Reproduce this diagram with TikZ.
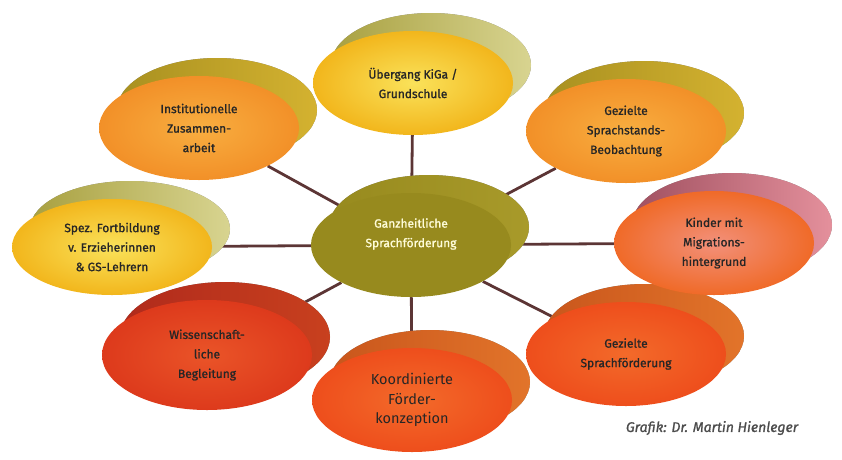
\documentclass[tikz,border=0pt]{standalone}
\usepackage{fontspec}
\setmainfont{Fira Sans}
\newfontfamily\heavy[FakeBold=1.2]{Fira Sans}
\usetikzlibrary{shapes.geometric,shadows,backgrounds}

\definecolor{linkbrown}{HTML}{5C3535}
\definecolor{hubolive}{HTML}{978A1E}
\definecolor{hubback}{HTML}{A89A2A}
\definecolor{redin}{HTML}{F36A2A}
\definecolor{redout}{HTML}{EE4E1C}
\definecolor{redbackA}{HTML}{C9561C}
\definecolor{redbackB}{HTML}{E2742A}
\definecolor{deepin}{HTML}{EA5428}
\definecolor{deepout}{HTML}{DD3A1C}
\definecolor{deepbackA}{HTML}{B02A1C}
\definecolor{deepbackB}{HTML}{C8401E}
\definecolor{yelin}{HTML}{FAE25A}
\definecolor{yelout}{HTML}{F2B61C}
\definecolor{khakiA}{HTML}{A8A040}
\definecolor{khakiB}{HTML}{D8D490}
\definecolor{pinkin}{HTML}{F2907A}
\definecolor{pinkout}{HTML}{F06A28}
\definecolor{mauveA}{HTML}{A05060}
\definecolor{mauveB}{HTML}{E4909C}
\definecolor{orgin}{HTML}{F8AE40}
\definecolor{orgout}{HTML}{F29028}
\definecolor{mustA}{HTML}{A89020}
\definecolor{mustB}{HTML}{D4B230}

\tikzset{
  bubble/.style={ellipse, minimum width=200pt, minimum height=104pt,
    inner sep=0pt, align=center, text=black!85,
    font=\heavy\fontsize{12}{19.5}\selectfont},
  face/.style 2 args={inner color=#1, outer color=#2},
  back/.style 2 args={drop shadow={shadow xshift=18pt, shadow yshift=18pt,
    opacity=1, left color=#1, right color=#2}},
  link/.style={draw=linkbrown, line width=2.8pt},
}

\begin{document}
\begin{tikzpicture}[x=1pt,y=-1pt]

\useasboundingbox (0,0) rectangle (842,459); %% page

%% lower row first, upper ones overlap them
\node[bubble, face={redin}{redout}, back={redbackA}{redbackB},
  font=\fontsize{14.5}{19.5}\selectfont]
  (konz) at (412,400) {Koordinierte\\Förder-\\konzeption};
\node[bubble, minimum width=210pt, minimum height=110pt,
  face={deepin}{deepout}, back={deepbackA}{deepbackB}]
  (wiss) at (207,355) {Wissenschaft-\\liche\\Begleitung};
\node[bubble, face={redin}{redout}, back={redbackA}{redbackB}]
  (foerd) at (626,354) {Gezielte\\Sprachförderung};

\node[bubble, minimum height=96pt, face={yelin}{yelout},
  back={khakiA}{khakiB}]
  (fortb) at (112,247) {Spez. Fortbildung\\v. Erzieherinnen\\\& GS-Lehrern};
\node[bubble, face={pinkin}{pinkout}, back={mauveA}{mauveB}]
  (migr) at (714,243) {Kinder mit\\Migrations-\\hintergrund};

\node[bubble, face={orgin}{orgout}, back={mustA}{mustB}]
  (koop) at (199,128) {Institutionelle\\Zusammen-\\arbeit};
\node[bubble, face={orgin}{orgout}, back={mustA}{mustB}]
  (beob) at (626,131) {Gezielte\\Sprachstands-\\Beobachtung};
\node[bubble, face={yelin}{yelout}, back={khakiA}{khakiB}]
  (kiga) at (413,83) {Übergang KiGa /\\Grundschule};

\node[bubble, text=white!85!yellow, fill=hubolive,
  back={hubolive}{hubback}]
  (hub) at (411,245) {\raisebox{8pt}[0pt][0pt]{\parbox{120pt}{\centering
    Ganzheitliche\\Sprachförderung}}};

\begin{pgfonlayer}{background}
\foreach \n in {kiga,koop,beob,fortb,migr,wiss,foerd,konz}
  \draw[link] (hub) -- (\n);
\end{pgfonlayer}

\node[font=\heavy\fontsize{14}{16}\selectfont\itshape, text=black!70]
  (credit) at (712,428) {Grafik: Dr. Martin Hienleger};

\end{tikzpicture}
\end{document}
